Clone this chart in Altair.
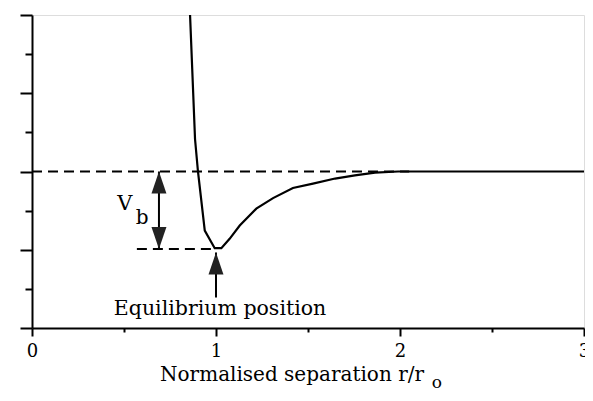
import altair as alt
import pandas as pd

# Potential curve (normalised separation r/r0, potential V in tick units)
r_vals = [0.859, 0.886, 0.902, 0.939, 0.993, 1.029, 1.074, 1.129, 1.219, 1.310,
          1.418, 1.527, 1.647, 1.755, 1.864, 1.99, 3.0]
v_vals = [4.0, 0.83, 0.0, -1.51, -1.96, -1.96, -1.72, -1.38, -0.95, -0.68,
          -0.42, -0.31, -0.18, -0.10, -0.03, 0.0, 0.0]

x_major = [0, 1, 2, 3]
x_minor = [0.5, 1.5, 2.5]
y_major = [-4, -2, 0, 2, 4]
y_minor = [-3, -1, 1, 3]

zero_line_r = [0, 2.05]
zero_line_v = [0, 0]
min_line_r = [0.57, 1.0]
min_line_v = [-1.98, -1.98]

vb_arrow_r = 0.69
vb_arrow_top = 0
vb_arrow_bottom = -1.98
eq_arrow_r = 1.0
eq_arrow_tip = -2.07
eq_arrow_tail = -3.22

labels_text = ["V", "b", "Equilibrium position"]
labels_r = [0.505, 0.598, 1.022]
labels_v = [-0.82, -1.19, -3.52]
labels_size = [21, 20, 20.5]

title_text = "Normalised separation r/r"
title_r = 0.696
title_v = -5.20
sub_text = "o"
sub_r = 2.2
sub_v = -5.41

FONT = "DejaVu Serif"

xs = alt.Scale(domain=[0, 3], nice=False, zero=False)
ys = alt.Scale(domain=[-4, 4], nice=False, zero=False)

curve_df = pd.DataFrame({"r": r_vals, "v": v_vals})
zero_df = pd.DataFrame({"r": zero_line_r, "v": zero_line_v})
min_df = pd.DataFrame({"r": min_line_r, "v": min_line_v})

curve = alt.Chart(curve_df).mark_line(color="black", strokeWidth=2.2).encode(
    x=alt.X("r:Q", scale=xs,
            axis=alt.Axis(values=x_major, tickSize=8, labelPadding=6, title=None,
                          labelFontSize=18, labelFont=FONT, labelColor="black",
                          domainColor="black", tickColor="black", domainWidth=2,
                          tickWidth=2, grid=False, labelFlush=False)),
    y=alt.Y("v:Q", scale=ys,
            axis=alt.Axis(values=y_major, tickSize=12, labels=False, title=None,
                          domainColor="black", tickColor="black", domainWidth=2,
                          tickWidth=2, grid=False)),
    order=alt.Order("r:Q"),
)

zero_dash = alt.Chart(zero_df).mark_line(color="black", strokeWidth=2, strokeDash=[10, 6]).encode(
    x=alt.X("r:Q", scale=xs,
            axis=alt.Axis(values=x_minor, tickSize=4, labels=False, title=None,
                          domain=False, orient="bottom", tickColor="black",
                          tickWidth=2, grid=False)),
    y=alt.Y("v:Q", scale=ys,
            axis=alt.Axis(values=y_minor, tickSize=7, labels=False, title=None,
                          domain=False, orient="left", tickColor="black",
                          tickWidth=2, grid=False)),
)

min_dash = alt.Chart(min_df).mark_line(color="black", strokeWidth=2, strokeDash=[10, 6]).encode(
    x=alt.X("r:Q", scale=xs, axis=None),
    y=alt.Y("v:Q", scale=ys, axis=None),
)

shaft_df = pd.DataFrame({
    "r": [vb_arrow_r, eq_arrow_r],
    "v1": [vb_arrow_top, eq_arrow_tip],
    "v2": [vb_arrow_bottom, eq_arrow_tail],
})
shafts = alt.Chart(shaft_df).mark_rule(color="black", strokeWidth=2).encode(
    x=alt.X("r:Q", scale=xs, axis=None),
    y=alt.Y("v1:Q", scale=ys, axis=None),
    y2="v2:Q",
)

up_path = "M0,0L-0.68,2L0.68,2Z"
down_path = "M0,0L-0.68,-2L0.68,-2Z"

up_df = pd.DataFrame({"r": [vb_arrow_r, eq_arrow_r], "v": [vb_arrow_top, eq_arrow_tip]})
down_df = pd.DataFrame({"r": [vb_arrow_r], "v": [vb_arrow_bottom]})

up_heads = alt.Chart(up_df).mark_point(shape=up_path, size=484, filled=True,
                                       color="#222222", opacity=1).encode(
    x=alt.X("r:Q", scale=xs, axis=None),
    y=alt.Y("v:Q", scale=ys, axis=None),
)
down_heads = alt.Chart(down_df).mark_point(shape=down_path, size=484, filled=True,
                                           color="#222222", opacity=1).encode(
    x=alt.X("r:Q", scale=xs, axis=None),
    y=alt.Y("v:Q", scale=ys, axis=None),
)

lab_df = pd.DataFrame({"t": labels_text, "r": labels_r, "v": labels_v, "s": labels_size})
labels = alt.Chart(lab_df).mark_text(font=FONT, color="black", align="center",
                                     baseline="middle").encode(
    x=alt.X("r:Q", scale=xs, axis=None),
    y=alt.Y("v:Q", scale=ys, axis=None),
    text="t:N",
    size=alt.Size("s:Q", scale=None, legend=None),
)

title_df = pd.DataFrame({"t": [title_text], "r": [title_r], "v": [title_v]})
title = alt.Chart(title_df).mark_text(font=FONT, fontSize=20, color="black", align="left",
                                      baseline="middle").encode(
    x=alt.X("r:Q", scale=xs, axis=None),
    y=alt.Y("v:Q", scale=ys, axis=None),
    text="t:N",
)
sub_df = pd.DataFrame({"t": [sub_text], "r": [sub_r], "v": [sub_v]})
sub = alt.Chart(sub_df).mark_text(font=FONT, fontSize=17, color="black", align="center",
                                  baseline="middle").encode(
    x=alt.X("r:Q", scale=xs, axis=None),
    y=alt.Y("v:Q", scale=ys, axis=None),
    text="t:N",
)

chart = alt.layer(
    curve, zero_dash, min_dash, shafts, up_heads, down_heads, labels, title, sub
).resolve_axis(x="independent", y="independent").properties(
    width=552, height=313,
    autosize=alt.AutoSizeParams(type="none"),
    padding={"left": 24, "top": 7, "right": 1, "bottom": 65},
).configure_view(stroke="black", strokeWidth=2).configure(background="white")

chart.save("out.html", embed_options={"renderer": "svg", "actions": False})
